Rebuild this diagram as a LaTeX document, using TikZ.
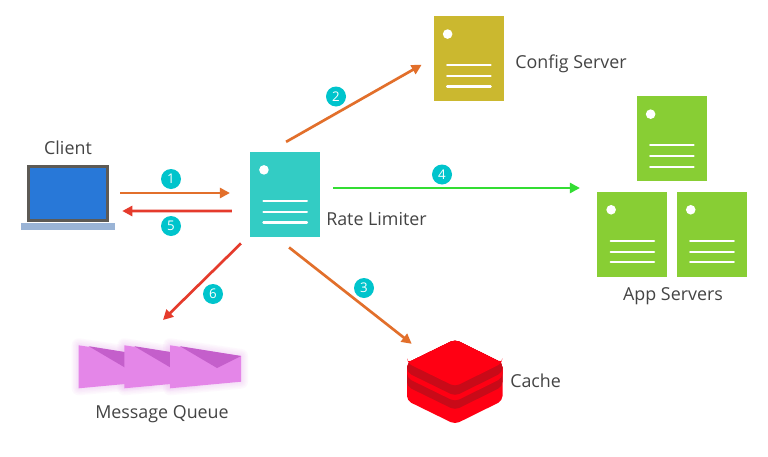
\documentclass[tikz,border=0pt]{standalone}
\usepackage{fontspec}
\setmainfont{Open Sans}
\usetikzlibrary{arrows.meta}
\definecolor{txt}{HTML}{444444}
\definecolor{orangeA}{HTML}{E26F2B}
\definecolor{redA}{HTML}{E53B2C}
\definecolor{greenA}{HTML}{33DD33}
\definecolor{teal}{HTML}{00C4CC}
\definecolor{rlc}{HTML}{33CCC4}
\definecolor{cfg}{HTML}{CBB82F}
\definecolor{app}{HTML}{88CE34}
\definecolor{env}{HTML}{E486E8}
\definecolor{envd}{HTML}{C45FCB}
\definecolor{rb}{HTML}{FF0013}
\definecolor{rd}{HTML}{C90A18}
\tikzset{
  x=0.75pt,y=-0.75pt,
  label text/.style={font=\fontsize{13.4pt}{16pt}\selectfont,text=txt,inner sep=0pt},
  server/.style={minimum width=52.2pt,minimum height=63.4pt,inner sep=0pt,fill=#1,draw=none},
  srvline/.style={draw=white,line width=1.7pt,line cap=round},
  conn/.style={line width=2pt,-{Triangle[length=7.5pt,width=7.5pt]}},
  badge/.style={circle,fill=teal,text=white,minimum size=15pt,inner sep=0pt,font=\fontsize{10pt}{10pt}\selectfont},
  stack/.style={fill=#1,draw=none,rounded corners=3.5pt},
}
\newcommand{\serverbox}[4]{%
  \node[server=#4] (#1) at (#2,#3) {};
  \fill[white] ([shift={(14,18)}]#1.north west) circle[radius=3.6pt];
  \draw[srvline] ([shift={(13.5,49)}]#1.north west) -- ([shift={(57,49)}]#1.north west);
  \draw[srvline] ([shift={(13.5,60)}]#1.north west) -- ([shift={(57,60)}]#1.north west);
  \draw[srvline] ([shift={(13.5,70.5)}]#1.north west) -- ([shift={(57,70.5)}]#1.north west);
}
\newcommand{\envelope}[1]{%
  \fill[env] (#1,345.3) -- (#1+71,356) -- (#1+71,381.7) -- (#1,388.3) -- cycle;
  \fill[envd] (#1+10,346.2) -- (#1+71,356) -- (#1+47,368) -- cycle;
}
\newcommand{\envglow}[1]{%
  \foreach \w in {14,11,8,5,2}{
    \draw[draw=env,line width=\w*0.75pt,opacity=0.05,line join=round] (#1,345.3) -- (#1+71,356) -- (#1+71,381.7) -- (#1,388.3) -- cycle;
  }
}
\newcommand{\layer}[2]{%
  \fill[stack=#2] (455,339.5) -- (502.5,363) -- (502.5,#1) -- (455,#1+23.5) -- (407,#1) -- (407,363) -- cycle;
}
\begin{document}
\begin{tikzpicture}
\useasboundingbox[fill=white] (0,0) rectangle (768,457);
% servers
\serverbox{rl}{285}{194.4}{rlc}
\serverbox{config}{468.7}{58.6}{cfg}
\serverbox{apptop}{671.7}{138.7}{app}
\serverbox{appleft}{632.2}{234.3}{app}
\serverbox{appright}{711.8}{234.3}{app}
% client
\node[draw=none,fill=none,minimum width=61.5pt,minimum height=42.75pt,inner sep=0pt] (laptop) at (68,193.5) {};
\fill[fill={rgb,255:red,154;green,180;blue,214}] (21,223) rectangle (115,230);
\draw[draw={rgb,255:red,93;green,90;blue,85},fill={rgb,255:red,40;green,120;blue,216},line width=2.3pt] (28.8,166.5) rectangle (107.5,220.5);
% queue
\node[minimum width=121.7pt,minimum height=32.3pt,inner sep=0pt] (queue) at (160,366.8) {};
\envglow{78.7}\envglow{124.3}\envglow{170}
\envelope{78.7}\envelope{124.3}\envelope{170}
% cache
\node[minimum width=71.6pt,minimum height=63.2pt,inner sep=0pt] (cache) at (454.7,382.2) {};
\layer{400.7}{rb}
\layer{386.5}{rd}
\layer{378}{rb}
\layer{372.5}{rd}
\layer{363}{rb}
% labels
\node[label text] (lclient) at (68,148) {Client};
\node[label text,anchor=west] (lconfig) at (515,64) {Config Server};
\node[label text,anchor=west] (lrl) at (326,219) {Rate Limiter};
\node[label text] (lapp) at (673,296.5) {App Servers};
\node[label text,anchor=west] (lcache) at (510,381) {Cache};
\node[label text] (lqueue) at (162,414) {Message Queue};
% connectors
\draw[conn,draw=orangeA,fill=orangeA] ([shift={(11,-0.5)}]laptop.east) -- ([shift={(-20,-1.4)}]rl.west);
\draw[conn,draw=redA,fill=redA] ([shift={(-18,16.6)}]rl.west) -- ([shift={(13,17.5)}]laptop.east);
\draw[conn,draw=orangeA,fill=orangeA] ([shift={(-34,-10)}]rl.north east) -- ([shift={(-12,6.2)}]config.west);
\draw[conn,draw=greenA,fill=greenA] ([shift={(13,-6.4)}]rl.east) -- ([shift={(-17.2,-46.3)}]appleft.west);
\draw[conn,draw=orangeA,fill=orangeA] ([shift={(-31,10.5)}]rl.south east) -- ([shift={(5,4)}]cache.north west);
\draw[conn,draw=redA,fill=redA] ([shift={(-9,6.5)}]rl.south west) -- ([shift={(3,-25)}]queue.north);
% badges
\node[badge] (b1) at (171,179) {1};
\node[badge] (b5) at (171,226) {5};
\node[badge] (b2) at (336,96.5) {2};
\node[badge] (b4) at (442,174.5) {4};
\node[badge] (b3) at (364,288) {3};
\node[badge] (b6) at (213,294) {6};
\end{tikzpicture}
\end{document}
